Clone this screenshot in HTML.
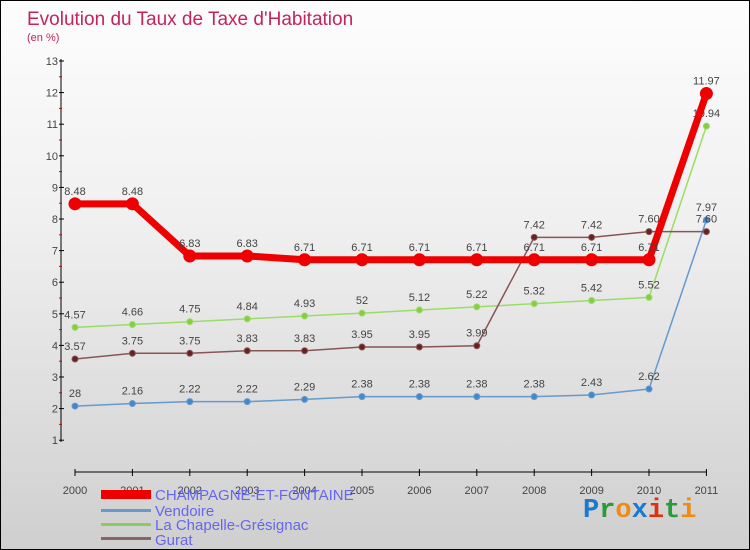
<!DOCTYPE html>
<html><head><meta charset="utf-8"><style>
body{margin:0}
#c{width:748px;height:548px;border:1px solid #000;background:linear-gradient(#fdfdfd,#f0f0f0 40%,#cfcfcf);position:relative;overflow:hidden;font-family:"Liberation Sans",sans-serif}
</style></head><body>
<div id="c">
<svg width="748" height="548" id="svg">
<text x="26" y="24" font-size="19" fill="#c4245a">Evolution du Taux de Taxe d'Habitation</text>
<text x="26" y="40" font-size="11" fill="#c4245a">(en %)</text>
<g id="axes"></g><g id="series"></g>
<g>
<rect x="100" y="489" width="50" height="9" fill="#ee0000"/>
<text x="154" y="499" font-size="15" fill="#6666ee">CHAMPAGNE-ET-FONTAINE</text>
<rect x="100" y="508" width="50" height="3" fill="#6699cc"/>
<text x="154" y="515" font-size="15" fill="#6666ee">Vendoire</text>
<rect x="100" y="522" width="50" height="3" fill="#88cc66"/>
<text x="154" y="529" font-size="15" fill="#6666ee">La Chapelle-Grésignac</text>
<rect x="100" y="536" width="50" height="3" fill="#886666"/>
<text x="154" y="544" font-size="15" fill="#6666ee">Gurat</text>
</g>
<text x="582" y="516" font-size="27" font-weight="bold" font-family="'Liberation Mono',monospace"><tspan fill="#1a7ad0">P</tspan><tspan fill="#2a9a3a">r</tspan><tspan fill="#f08a10">o</tspan><tspan fill="#1a7ad0">x</tspan><tspan fill="#e03010">i</tspan><tspan fill="#2a9a3a">t</tspan><tspan fill="#f08a10">i</tspan></text>
</svg>
</div>
<script>
const years=[2000,2001,2002,2003,2004,2005,2006,2007,2008,2009,2010,2011];
const champagne=[8.48,8.48,6.83,6.83,6.71,6.71,6.71,6.71,6.71,6.71,6.71,11.97];
const vendoire=[2.08,2.16,2.22,2.22,2.29,2.38,2.38,2.38,2.38,2.43,2.62,7.97];
const chapelle=[4.57,4.66,4.75,4.84,4.93,5.02,5.12,5.22,5.32,5.42,5.52,10.94];
const gurat=[3.57,3.75,3.75,3.83,3.83,3.95,3.95,3.99,7.42,7.42,7.6,7.6];
const yTicks=[1,2,3,4,5,6,7,8,9,10,11,12,13];
const NS="http://www.w3.org/2000/svg";
const X=i=>74+i*57.4, Y=v=>60+(13-v)*31.6;
function mk(t,a,p){const e=document.createElementNS(NS,t);for(const k in a)e.setAttribute(k,a[k]);p.appendChild(e);return e;}
const ax=document.getElementById('axes'), se=document.getElementById('series');
let l=mk('line',{x1:60,y1:58,x2:60,y2:441,stroke:'#000','stroke-width':1},ax);


l=mk('line',{x1:74,y1:471,x2:706,y2:471,stroke:'#000','stroke-width':1},ax);


yTicks.forEach(v=>{
 mk('line',{x1:58,y1:Y(v),x2:63,y2:Y(v),stroke:'#000'},ax);
 if(v<13)mk('line',{x1:58,y1:Y(v+0.5),x2:61,y2:Y(v+0.5),stroke:'#d00'},ax);
 const t=mk('text',{x:57,y:Y(v)+4,'font-size':11,fill:'#444','text-anchor':'end'},ax);t.textContent=v;
 
 
});
years.forEach((yr,i)=>{
 mk('line',{x1:X(i),y1:468,x2:X(i),y2:475,stroke:'#000'},ax);
 const t=mk('text',{x:X(i),y:493,'font-size':11,fill:'#444','text-anchor':'middle'},ax);t.textContent=yr;
 
 
});
function series(data,color,w,r,name,dot){
 const p=mk('polyline',{points:data.map((v,i)=>X(i)+','+Y(v)).join(' '),fill:'none',stroke:color,'stroke-width':w,'stroke-linejoin':'round'},se);
 
 
 data.forEach((v,i)=>{
  const c=mk('circle',{cx:X(i),cy:Y(v),r:r,fill:dot,stroke:color,'stroke-width':1},se);
  
  
  const t=mk('text',{x:X(i),y:Y(v)-9,'font-size':11,fill:'#444','text-anchor':'middle'},se);
  t.textContent=String(v).replace(/^(\d)\.(\d)$/,'$1.$20').replace('.0','');
  
  
 });
}
series(vendoire,'#6699cc',1.5,3,'vendoire','#4488cc');
series(chapelle,'#99dd66',1.5,3,'chapelle','#88cc44');
series(gurat,'#885555',1.5,3,'gurat','#662222');
series(champagne,'#ee0000',7,6,'champagne','#ee0000');
</script>
</body></html>
